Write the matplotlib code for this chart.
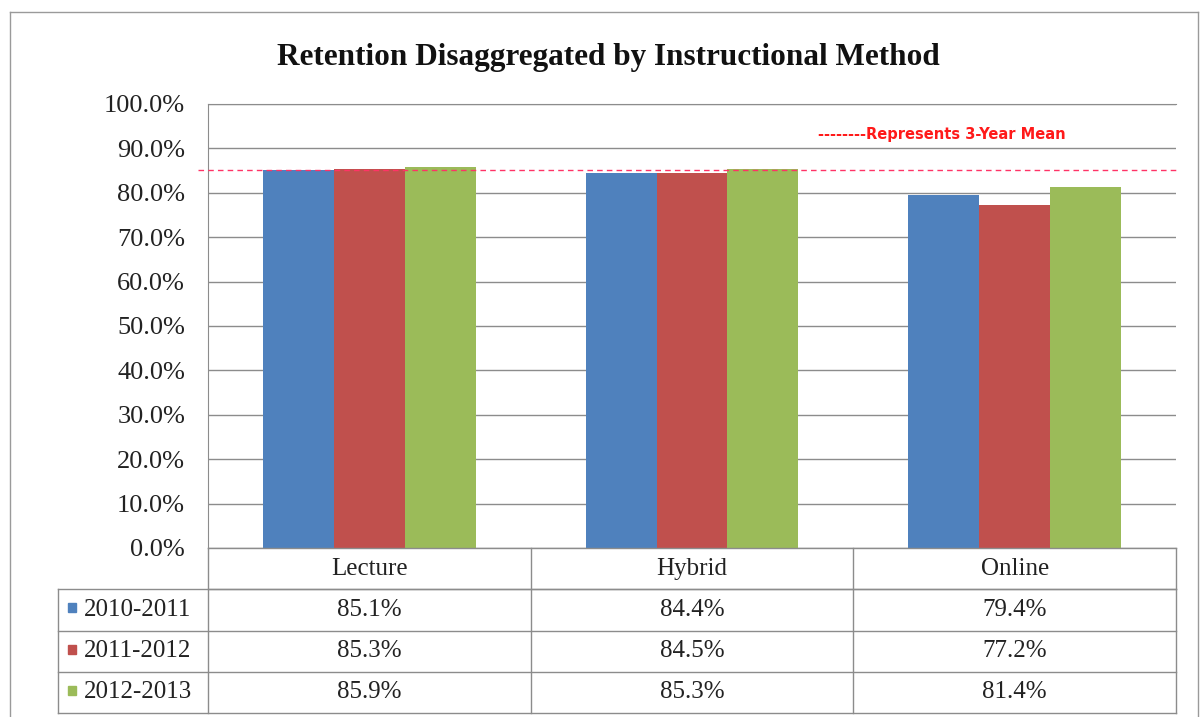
import matplotlib
matplotlib.use("Agg")
import matplotlib.pyplot as plt
from matplotlib.lines import Line2D
from matplotlib.patches import Rectangle
import numpy as np

categories = ["Lecture", "Hybrid", "Online"]
series_names = ["2010-2011", "2011-2012", "2012-2013"]
vals_2010 = [85.1, 84.4, 79.4]
vals_2011 = [85.3, 84.5, 77.2]
vals_2012 = [85.9, 85.3, 81.4]
mean_line = 85.2
yticks = [0, 10, 20, 30, 40, 50, 60, 70, 80, 90, 100]
title = "Retention Disaggregated by Instructional Method"
mean_label = "--------Represents 3-Year Mean"

colors = ["#4F81BD", "#C0504D", "#9BBB59"]
series = [vals_2010, vals_2011, vals_2012]

W, H = 1204, 717
fig = plt.figure(figsize=(W / 100, H / 100), dpi=100)
serif = ["Liberation Serif", "DejaVu Serif"]

def fx(px):
    return px / W

def fy(py):
    return 1 - py / H

# outer border
for xs, ys in [([10, 10], [717, 12]), ([10, 1198], [12, 12]), ([1198, 1198], [12, 717])]:
    fig.add_artist(Line2D([fx(x) for x in xs], [fy(y) for y in ys], color="#9a9a9a", lw=1.0))

L, R, T, B = 208, 1176, 104, 548
ax = fig.add_axes([fx(L), fy(B), fx(R) - fx(L), fy(T) - fy(B)])
x = np.arange(len(categories))
bw = 0.22
for i, (vals, c) in enumerate(zip(series, colors)):
    ax.bar(x + (i - 1) * bw, vals, width=bw, color=c, zorder=3, linewidth=0)
ax.set_xlim(-0.5, 2.5)
ax.set_ylim(0, 100)
ax.set_yticks(yticks)
ax.set_yticklabels([f"{v:.1f}%" for v in yticks], fontfamily=serif, fontsize=19, color="#222222")
ax.tick_params(axis="y", length=0, pad=16.5)
ax.set_xticks([])
ax.grid(axis="y", color="#8c8c8c", lw=1.0, zorder=1)
for s in ["right", "bottom"]:
    ax.spines[s].set_visible(False)
ax.spines["left"].set_color("#8c8c8c")
ax.spines["top"].set_color("#8c8c8c")

# mean dashed line (extends slightly left of the plot area)
ax.plot([-0.53, 2.5], [mean_line, mean_line], color="#FF3366", lw=1.0,
        dashes=(4, 3), clip_on=False, zorder=4)

fig.text(fx(818), fy(135), mean_label, color="#FF1A1A", fontsize=10.5, fontweight="bold",
         family=["Liberation Sans Narrow", "DejaVu Sans"], ha="left", va="center")

fig.text(fx(608), fy(57), title, fontsize=22.5, fontweight="bold", family=serif,
         ha="center", va="center", color="#111111")

# data table
TB = 713
tax = fig.add_axes([fx(L), fy(TB), fx(R) - fx(L), fy(B) - fy(TB)])
tax.set_xlim(-0.5, 2.5)
tax.set_ylim(4, 0)
tax.axis("off")
leg_left = -0.5 + (58 - L) / (R - L) * 3
gc = "#8c8c8c"
for yy in [0, 1]:
    tax.plot([-0.5, 2.5], [yy, yy], color=gc, lw=1.0, clip_on=False)
for yy in [1, 2, 3, 4]:
    tax.plot([leg_left, 2.5], [yy, yy], color=gc, lw=1.0, clip_on=False)
for xx in [-0.5, 0.5, 1.5, 2.5]:
    tax.plot([xx, xx], [0, 4], color=gc, lw=1.0, clip_on=False)
tax.plot([leg_left, leg_left], [1, 4], color=gc, lw=1.0, clip_on=False)

for j, cat in enumerate(categories):
    tax.text(j, 0.5, cat, ha="center", va="center", fontsize=18, family=serif, color="#222222")
sq_w = (8 / (R - L)) * 3
for i, (name, vals, c) in enumerate(zip(series_names, series, colors)):
    yc = i + 1.5
    tax.add_patch(Rectangle((leg_left + (10 / (R - L)) * 3, yc - 0.16), sq_w, 0.22,
                            color=c, clip_on=False))
    tax.text(leg_left + (26 / (R - L)) * 3, yc, name, ha="left", va="center", fontsize=18,
             family=serif, color="#222222", clip_on=False)
    for j, v in enumerate(vals):
        tax.text(j, yc, f"{v:.1f}%", ha="center", va="center", fontsize=18, family=serif,
                 color="#222222")

fig.savefig("out.png", dpi=100)
